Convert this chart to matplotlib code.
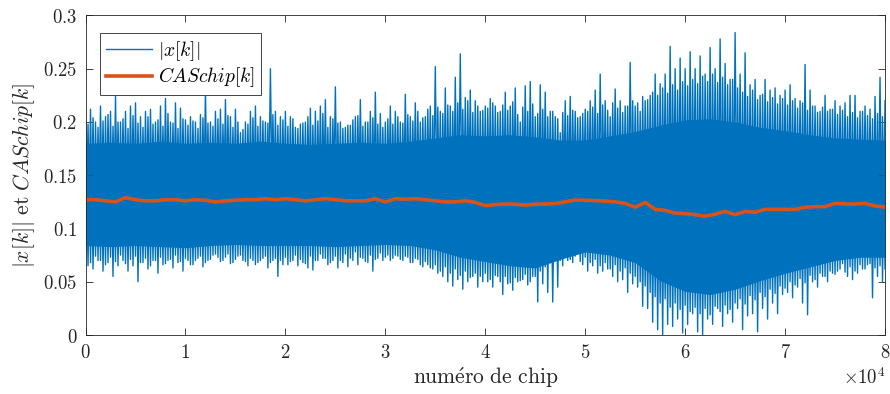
import matplotlib
matplotlib.use("Agg")
import matplotlib.pyplot as plt
import numpy as np

plt.rcParams['mathtext.fontset'] = 'cm'

# |x[k]| : tallest spike tops, every 500 chips (0 .. 80000)
spike_hi = [0.205, 0.212, 0.200, 0.215, 0.205, 0.210, 0.224, 0.200, 0.210, 0.215,
            0.218, 0.205, 0.210, 0.212, 0.200, 0.215, 0.222, 0.200, 0.218, 0.213,
            0.202, 0.205, 0.200, 0.207, 0.230, 0.200, 0.210, 0.212, 0.221, 0.205,
            0.212, 0.190, 0.200, 0.210, 0.215, 0.205, 0.200, 0.250, 0.210, 0.205,
            0.210,
            0.205, 0.195, 0.198, 0.200, 0.213, 0.210, 0.215, 0.221, 0.205, 0.233,
            0.200, 0.195, 0.197, 0.205, 0.221, 0.200, 0.210, 0.228, 0.208, 0.200,
            0.215, 0.210, 0.200, 0.226, 0.205, 0.218, 0.200, 0.205, 0.215, 0.252,
            0.210, 0.232, 0.215, 0.242, 0.264, 0.223, 0.230, 0.220, 0.210, 0.215,
            0.222, 0.215, 0.210, 0.228, 0.215, 0.232, 0.200, 0.234, 0.238, 0.205,
            0.235, 0.228, 0.210, 0.205, 0.190, 0.220, 0.224, 0.210, 0.205, 0.212,
            0.220, 0.230, 0.245, 0.220, 0.205, 0.231, 0.220, 0.215, 0.256, 0.215,
            0.210, 0.220, 0.225, 0.245, 0.236, 0.245, 0.271, 0.250, 0.260, 0.250,
            0.266, 0.250, 0.262, 0.245, 0.270, 0.250, 0.278, 0.255, 0.240, 0.284,
            0.245, 0.265, 0.235, 0.240, 0.225, 0.240, 0.230, 0.232, 0.225, 0.230,
            0.235, 0.222, 0.220, 0.254, 0.230, 0.215, 0.210, 0.225, 0.212, 0.220,
            0.215, 0.218, 0.225, 0.225, 0.210, 0.215, 0.212, 0.224, 0.242, 0.220]

# |x[k]| : deepest spike bottoms, every 500 chips (250 .. 79750)
spike_lo = [0.065, 0.062, 0.070, 0.060, 0.068, 0.055, 0.065, 0.070, 0.060, 0.065,
            0.050, 0.068, 0.062, 0.070, 0.058, 0.066, 0.070, 0.063, 0.068, 0.060,
            0.070, 0.066, 0.072, 0.064, 0.070, 0.075, 0.073, 0.070, 0.076, 0.068,
            0.074, 0.070, 0.065, 0.070, 0.068, 0.072, 0.063, 0.070, 0.055, 0.066,
            0.066, 0.070, 0.065, 0.068, 0.063, 0.061, 0.070, 0.072, 0.066, 0.070,
            0.063, 0.068, 0.064, 0.070, 0.066, 0.072, 0.068, 0.060, 0.072, 0.070,
            0.075, 0.072, 0.074, 0.070, 0.073, 0.068, 0.071, 0.064, 0.066, 0.062,
            0.058, 0.055, 0.050, 0.046, 0.052, 0.043, 0.050, 0.055, 0.045, 0.050,
            0.050, 0.045, 0.055, 0.038, 0.048, 0.042, 0.050, 0.052, 0.047, 0.055,
            0.031, 0.048, 0.040, 0.031, 0.045, 0.065, 0.070, 0.068, 0.078, 0.066,
            0.060, 0.065, 0.058, 0.060, 0.062, 0.055, 0.050, 0.052, 0.040, 0.048,
            0.045, 0.027, 0.025, 0.012, 0.005, 0.000, 0.010, 0.008, 0.015, 0.002,
            0.010, 0.020, 0.003, 0.000, 0.015, 0.010, 0.025, 0.008, 0.020, 0.012,
            0.025, 0.005, 0.018, 0.020, 0.003, 0.025, 0.015, 0.030, 0.020, 0.038,
            0.040, 0.035, 0.045, 0.030, 0.019, 0.050, 0.045, 0.055, 0.050, 0.058,
            0.060, 0.067, 0.055, 0.052, 0.058, 0.062, 0.066, 0.035, 0.055, 0.050]

# |x[k]| : dense fringe tops, every 500 chips (250 .. 79750)
fringe_hi = [0.198, 0.204, 0.195, 0.201, 0.207, 0.196, 0.200, 0.203, 0.194, 0.206,
             0.199, 0.195, 0.205, 0.198, 0.202, 0.196, 0.208, 0.199, 0.194, 0.203,
             0.197, 0.201, 0.194, 0.204, 0.199, 0.196, 0.203, 0.198, 0.206, 0.195,
             0.200, 0.193, 0.198, 0.204, 0.196, 0.201, 0.199, 0.207, 0.197, 0.202,
             0.196, 0.203, 0.194, 0.199, 0.205, 0.197, 0.201, 0.208, 0.195, 0.203,
             0.199, 0.194, 0.197, 0.202, 0.206, 0.196, 0.200, 0.204, 0.198, 0.195,
             0.203, 0.198, 0.205, 0.199, 0.207, 0.201, 0.210, 0.204, 0.212, 0.206,
             0.214, 0.208, 0.216, 0.210, 0.218, 0.212, 0.220, 0.209, 0.215, 0.211,
             0.213, 0.218, 0.209, 0.216, 0.211, 0.219, 0.207, 0.214, 0.210, 0.217,
             0.208, 0.212, 0.205, 0.210, 0.203, 0.209, 0.206, 0.211, 0.204, 0.208,
             0.210, 0.214, 0.208, 0.216, 0.211, 0.218, 0.213, 0.209, 0.215, 0.220,
             0.218, 0.224, 0.221, 0.228, 0.225, 0.232, 0.227, 0.235, 0.230, 0.238,
             0.234, 0.240, 0.236, 0.243, 0.238, 0.245, 0.237, 0.242, 0.235, 0.240,
             0.232, 0.228, 0.224, 0.230, 0.221, 0.226, 0.219, 0.223, 0.217, 0.222,
             0.216, 0.220, 0.213, 0.218, 0.211, 0.215, 0.209, 0.214, 0.210, 0.212,
             0.207, 0.211, 0.205, 0.209, 0.204, 0.210, 0.206, 0.203, 0.208, 0.205]

# |x[k]| : dense fringe bottoms, every 500 chips (0 .. 80000)
fringe_lo = [0.072, 0.068, 0.074, 0.070, 0.066, 0.073, 0.069, 0.075, 0.067, 0.071,
             0.074, 0.068, 0.072, 0.065, 0.070, 0.073, 0.067, 0.071, 0.075, 0.069,
             0.072, 0.066, 0.070, 0.074, 0.068, 0.071, 0.076, 0.069, 0.073, 0.067,
             0.071, 0.075, 0.069, 0.072, 0.066, 0.070, 0.074, 0.068, 0.072, 0.070,
             0.073, 0.069, 0.075, 0.071, 0.067, 0.074, 0.070, 0.076, 0.072, 0.068,
             0.074, 0.070, 0.076, 0.072, 0.078, 0.073, 0.069, 0.075, 0.071, 0.077,
             0.073, 0.070, 0.075, 0.071, 0.074, 0.068, 0.072, 0.066, 0.069, 0.063,
             0.066, 0.060, 0.064, 0.058, 0.062, 0.056, 0.060, 0.054, 0.058, 0.055,
             0.058, 0.052, 0.056, 0.050, 0.055, 0.049, 0.054, 0.051, 0.057, 0.050,
             0.055, 0.060, 0.064, 0.068, 0.072, 0.070, 0.075, 0.071, 0.074, 0.069,
             0.073, 0.068, 0.071, 0.065, 0.068, 0.062, 0.066, 0.060, 0.063, 0.058,
             0.055, 0.050, 0.046, 0.040, 0.036, 0.030, 0.034, 0.026, 0.030, 0.024,
             0.028, 0.022, 0.026, 0.020, 0.025, 0.019, 0.027, 0.022, 0.028, 0.024,
             0.030, 0.034, 0.029, 0.037, 0.033, 0.040, 0.036, 0.043, 0.039, 0.046,
             0.044, 0.050, 0.047, 0.053, 0.049, 0.056, 0.052, 0.058, 0.055, 0.060,
             0.057, 0.062, 0.059, 0.064, 0.060, 0.066, 0.062, 0.067, 0.063, 0.065,
             0.062]

# solid part of |x[k]|, every 2500 chips
core_hi = [0.180, 0.181, 0.180, 0.182, 0.180, 0.181, 0.180, 0.182, 0.180, 0.179,
           0.180, 0.181, 0.180, 0.182, 0.185, 0.188, 0.187, 0.188, 0.186, 0.183,
           0.183, 0.187, 0.191, 0.197, 0.202, 0.203, 0.200, 0.195, 0.192, 0.188,
           0.185, 0.184, 0.183]
core_lo = [0.084, 0.083, 0.084, 0.083, 0.082, 0.084, 0.085, 0.084, 0.084, 0.084,
           0.083, 0.084, 0.085, 0.084, 0.080, 0.073, 0.069, 0.065, 0.063, 0.071,
           0.078, 0.075, 0.068, 0.051, 0.041, 0.038, 0.043, 0.051, 0.058, 0.064,
           0.070, 0.073, 0.073]

# CASchip[k], every 1000 chips
cas = [0.127, 0.127, 0.126, 0.125, 0.129, 0.127, 0.126, 0.126, 0.127, 0.127,
       0.126, 0.127, 0.1265, 0.125, 0.126, 0.1265, 0.127, 0.127, 0.128, 0.127,
       0.128, 0.127, 0.126, 0.127, 0.128, 0.127, 0.126, 0.126, 0.126, 0.128,
       0.125, 0.128, 0.1275, 0.128, 0.127, 0.126, 0.125, 0.125, 0.126, 0.1245,
       0.1215, 0.1225, 0.123, 0.1228, 0.122, 0.1228, 0.123, 0.1235, 0.125, 0.1268,
       0.1265, 0.1262, 0.1258, 0.125, 0.1236, 0.120, 0.1245, 0.118, 0.117, 0.1145,
       0.114, 0.113, 0.1115, 0.1135, 0.116, 0.113, 0.116, 0.1152, 0.118, 0.118,
       0.118, 0.118, 0.120, 0.1205, 0.1205, 0.1236, 0.123, 0.123, 0.1236, 0.1212,
       0.120]

blue = '#0072BD'
orange = '#D95319'
dark = '#262626'


def zigzag(a, xa, b, xb):
    # interleave two series: a[0], b[0], a[1], b[1], ...
    n = len(a) + len(b)
    xs = np.empty(n)
    ys = np.empty(n)
    xs[0::2] = xa
    xs[1::2] = xb
    ys[0::2] = a
    ys[1::2] = b
    return xs, ys


x500 = np.arange(161) * 500
x500h = np.arange(160) * 500 + 250
xs1, ys1 = zigzag(spike_hi, x500, spike_lo, x500h)
xs2, ys2 = zigzag(fringe_lo, x500, fringe_hi, x500h)
x_core = np.arange(len(core_hi)) * 2500
x_cas = np.arange(len(cas)) * 1000

fig = plt.figure(figsize=(8.9, 3.94), dpi=100)
ax = fig.add_axes([0.0961, 0.1497, 0.8983, 0.8110])

ax.fill_between(x_core, core_lo, core_hi, color=blue, linewidth=0)
ax.plot(xs2, ys2, color=blue, linewidth=1.0)
ax.plot(xs1, ys1, color=blue, linewidth=1.0, label=r'$|x[k]|$')
ax.plot(x_cas, cas, color=orange, linewidth=2.6, label=r'$CASchip[k]$')

ax.set_xlim(0, 80000)
ax.set_ylim(0, 0.3)
ax.set_xticks(np.arange(0, 80001, 10000))
ax.set_xticklabels(['$%d$' % i for i in range(9)])
ax.set_yticks([0, 0.05, 0.1, 0.15, 0.2, 0.25, 0.3])
ax.set_yticklabels(['$0$', '$0.05$', '$0.1$', '$0.15$', '$0.2$', '$0.25$', '$0.3$'])
ax.tick_params(direction='in', top=True, right=True, length=5, width=0.6,
               labelsize=13.5, colors=dark, pad=6)
for s in ax.spines.values():
    s.set_linewidth(0.6)
    s.set_color(dark)

ax.set_xlabel(r'$\mathrm{num\acute{e}ro\ de\ chip}$', fontsize=15.5, color=dark, labelpad=2)
ax.set_ylabel(r'$|x[k]|\ \mathrm{et}\ CASchip[k]$', fontsize=15.5, color=dark, labelpad=4)
ax.text(1.0, -0.100, r'$\times10^4$', transform=ax.transAxes, ha='right', va='top',
        fontsize=13.5, color=dark)

leg = ax.legend(loc='upper left', bbox_to_anchor=(0.018, 0.945), borderaxespad=0,
                fancybox=False, fontsize=14, handlelength=2.4, handletextpad=0.3,
                borderpad=0.3, labelspacing=0.15)
leg.get_frame().set_edgecolor(dark)
leg.get_frame().set_linewidth(0.6)
leg.get_frame().set_alpha(1)

plt.savefig('out.png', dpi=100)
